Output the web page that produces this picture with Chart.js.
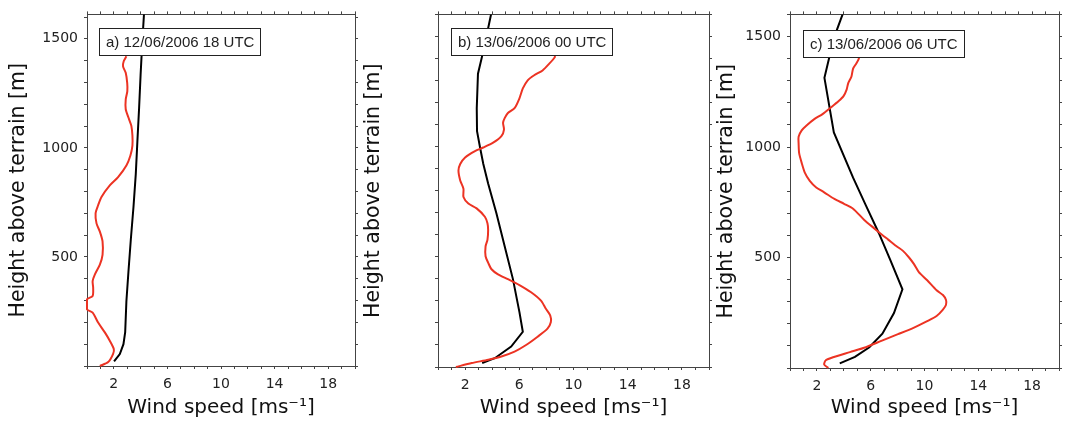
<!DOCTYPE html>
<html>
<head>
<meta charset="utf-8">
<script src="https://cdn.jsdelivr.net/npm/chart.js@4.4.1/dist/chart.umd.min.js"></script>
<style>
  body { margin: 0; background: #fff; }
  #wrap { position: relative; width: 1066px; height: 423px; overflow: hidden; }
  #wrap canvas { position: absolute; top: 0; }
</style>
</head>
<body>
<div id="wrap">
  <canvas id="panelA" width="362" height="423" style="left:0px"></canvas>
  <canvas id="panelB" width="358" height="423" style="left:358px"></canvas>
  <canvas id="panelC" width="352" height="423" style="left:714px"></canvas>
</div>
<script>
// tick labels
const speedLabels = [2, 6, 10, 14, 18];
const heightLabels = [500, 1000, 1500];
const panelTitles = ['a) 12/06/2006 18 UTC', 'b) 13/06/2006 00 UTC', 'c) 13/06/2006 06 UTC'];
const heightMax = [1612, 1605, 1600];

// a) 12/06/2006 18 UTC - measured profile (red)
const obsHeightA = [0, 18, 56, 78, 116, 154, 199, 245, 260, 306, 321, 359, 389, 420, 465, 510, 571, 616, 654, 700, 737, 775, 828, 866, 919, 965, 1010, 1056, 1101, 1131, 1177, 1222, 1260, 1298, 1344, 1374, 1397, 1420];
const obsSpeedA = [0.96, 1.58, 1.95, 2.0, 1.7, 1.33, 0.83, 0.42, 0.0, 0.0, 0.42, 0.46, 0.42, 0.59, 0.96, 1.16, 1.16, 0.96, 0.71, 0.64, 0.83, 1.08, 1.7, 2.32, 2.94, 3.24, 3.39, 3.39, 3.31, 3.14, 2.89, 2.89, 3.01, 3.0, 2.89, 2.69, 2.74, 2.94];
// a) model profile (black)
const modHeightA = [21, 55, 100, 155, 297, 430, 580, 730, 880, 1030, 1185, 1335, 1490, 1640];
const modSpeedA = [2.02, 2.45, 2.72, 2.85, 2.94, 3.09, 3.27, 3.47, 3.64, 3.76, 3.89, 4.0, 4.13, 4.28];

// b) 13/06/2006 00 UTC
const obsHeightB = [0, 18, 33, 48, 70, 100, 138, 175, 205, 235, 265, 302, 340, 373, 400, 422, 445, 475, 504, 549, 579, 624, 654, 684, 722, 744, 774, 811, 849, 894, 924, 954, 983, 999, 1021, 1051, 1081, 1111, 1133, 1156, 1178, 1223, 1268, 1305, 1328, 1350, 1380, 1410, 1418];
const obsSpeedB = [1.32, 2.49, 3.71, 4.68, 5.65, 6.5, 7.35, 8.08, 8.33, 8.28, 7.96, 7.6, 6.87, 6.01, 5.16, 4.43, 3.95, 3.7, 3.51, 3.51, 3.65, 3.7, 3.65, 3.46, 2.85, 2.24, 1.88, 1.88, 1.64, 1.51, 1.64, 2.0, 2.73, 3.34, 4.07, 4.68, 4.87, 4.8, 4.92, 5.16, 5.65, 6.01, 6.26, 6.62, 7.1, 7.72, 8.2, 8.62, 8.62];
const modHeightB = [18, 40, 93, 160, 250, 400, 550, 700, 835, 925, 1000, 1073, 1178, 1335, 1405, 1507, 1630];
const modSpeedB = [3.26, 4.19, 5.4, 6.26, 6.01, 5.53, 4.92, 4.31, 3.7, 3.34, 3.1, 2.88, 2.86, 2.95, 3.22, 3.58, 4.0];

// c) 13/06/2006 06 UTC
const obsHeightC = [0, 16, 35, 50, 72, 94, 124, 153, 183, 212, 235, 264, 286, 308, 330, 352, 397, 434, 470, 500, 530, 552, 581, 603, 633, 670, 721, 743, 765, 795, 817, 847, 883, 928, 972, 1016, 1046, 1075, 1097, 1127, 1149, 1178, 1208, 1230, 1260, 1289, 1319, 1355, 1378, 1400, 1407];
const obsSpeedC = [2.85, 2.54, 2.66, 3.26, 4.45, 5.64, 6.84, 8.03, 9.22, 10.2, 10.9, 11.37, 11.6, 11.6, 11.37, 10.9, 10.2, 9.58, 9.22, 8.85, 8.4, 7.9, 7.3, 6.84, 6.24, 5.52, 4.69, 4.02, 3.3, 2.54, 1.95, 1.47, 1.11, 0.87, 0.68, 0.64, 0.64, 0.87, 1.23, 1.83, 2.42, 3.02, 3.62, 3.98, 4.21, 4.33, 4.57, 4.69, 4.93, 5.12, 5.12];
const modHeightC = [21, 50, 94, 155, 249, 356, 493, 611, 736, 861, 1066, 1313, 1400, 1532, 1640];
const modSpeedC = [3.7, 4.83, 5.9, 6.87, 7.73, 8.36, 7.43, 6.6, 5.64, 4.69, 3.26, 2.56, 2.9, 3.5, 4.15];

Chart.defaults.font.family = '"DejaVu Sans", sans-serif';

const toPoints = (speeds, heights) => speeds.map((v, i) => ({ x: v, y: heights[i] }));

// boxed date/time stamp in the upper left of the plot
const stampBox = {
  id: 'stampBox',
  afterDatasetsDraw(chart, args, opts) {
    const { ctx, chartArea } = chart;
    ctx.save();
    ctx.font = '15px "Liberation Sans"';
    const w = Math.round(ctx.measureText(opts.text).width) + 13;
    const x = Math.round(chartArea.left + opts.dx), y = Math.round(chartArea.top + opts.dy);
    ctx.fillStyle = '#fff';
    ctx.fillRect(x, y, w, 27);
    ctx.strokeStyle = '#222';
    ctx.lineWidth = 1;
    ctx.strokeRect(x + 0.5, y + 0.5, w, 27);
    ctx.fillStyle = '#222';
    ctx.textBaseline = 'middle';
    ctx.fillText(opts.text, x + 7, y + 14.5);
    ctx.restore();
  }
};

function makePanel(id, idx, obs, mod, box) {
  const tickGrid = { drawOnChartArea: false, tickLength: 3, color: '#444' };
  const edge = { color: '#444', width: 1 };
  new Chart(document.getElementById(id), {
    type: 'scatter',
    data: {
      datasets: [
        // lidar trace hugs the left frame in places, so let it draw a little past the edge
        { data: obs, showLine: true, borderColor: '#ec3323', borderWidth: 2, pointRadius: 0, tension: 0.25, clip: 3 },
        { data: mod, showLine: true, borderColor: '#000', borderWidth: 2, pointRadius: 0, tension: 0 }
      ]
    },
    options: {
      responsive: false,
      animation: false,
      devicePixelRatio: 1,
      layout: { padding: 0 },
      plugins: {
        legend: { display: false },
        tooltip: { enabled: false },
        stampBox: { text: panelTitles[idx], dx: box.dx, dy: box.dy }
      },
      scales: {
        x: {
          type: 'linear', position: 'bottom', min: 0, max: 20,
          ticks: {
            stepSize: 1, autoSkip: false, maxRotation: 0, padding: 7, color: '#222',
            font: { size: 14 },
            callback: v => speedLabels.includes(v) ? String(v) : ''
          },
          grid: tickGrid, border: edge,
          title: { display: true, text: 'Wind speed [ms⁻¹]', color: '#111', font: { size: 20 }, padding: { top: 0, bottom: 3 } },
          afterFit: s => { s.height = box.bottom; }
        },
        x2: {
          type: 'linear', position: 'top', min: 0, max: 20,
          ticks: { display: false, stepSize: 1, autoSkip: false },
          grid: tickGrid, border: edge,
          afterFit: s => { s.height = box.top; }
        },
        y: {
          type: 'linear', position: 'left', min: 0, max: heightMax[idx],
          ticks: {
            stepSize: 100, autoSkip: false, includeBounds: false, padding: 6, color: '#222',
            font: { size: 14 },
            callback: v => heightLabels.includes(v) ? String(v) : ''
          },
          grid: tickGrid, border: edge,
          title: { display: true, text: 'Height above terrain [m]', color: '#111', font: { size: 20.5 }, padding: { top: box.titlePad, bottom: 0 } },
          afterFit: s => { s.width = box.left; }
        },
        y2: {
          type: 'linear', position: 'right', min: 0, max: heightMax[idx],
          ticks: { display: false, stepSize: 100, autoSkip: false, includeBounds: false },
          grid: tickGrid, border: edge,
          afterFit: s => { s.width = box.right; }
        }
      }
    },
    plugins: [stampBox]
  });
}

makePanel('panelA', 0, toPoints(obsSpeedA, obsHeightA), toPoints(modSpeedA, modHeightA),
  { left: 87, right: 5, top: 11, bottom: 57, titlePad: 6, dx: 12, dy: 14 });
makePanel('panelB', 1, toPoints(obsSpeedB, obsHeightB), toPoints(modSpeedB, modHeightB),
  { left: 80, right: 4, top: 10, bottom: 56, titlePad: 3, dx: 13, dy: 14 });
makePanel('panelC', 2, toPoints(obsSpeedC, obsHeightC), toPoints(modSpeedC, modHeightC),
  { left: 76, right: 2, top: 7, bottom: 55, titlePad: 0, dx: 13, dy: 16 });
</script>
</body>
</html>
